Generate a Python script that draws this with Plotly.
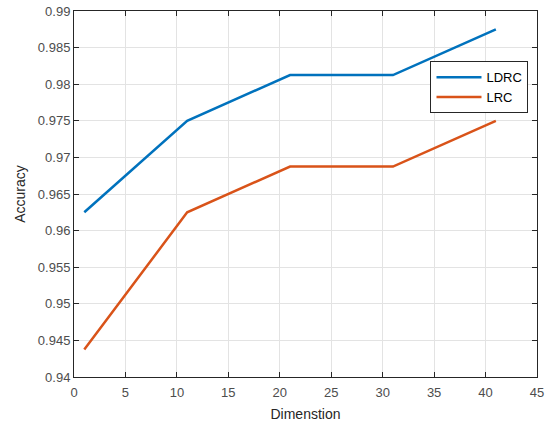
import plotly.graph_objects as go

dims = [1, 11, 21, 31, 41]
ldrc = [0.9625, 0.975, 0.98125, 0.98125, 0.9875]
lrc = [0.94375, 0.9625, 0.96875, 0.96875, 0.975]
x_ticks = [0, 5, 10, 15, 20, 25, 30, 35, 40, 45]
y_ticks = [0.94, 0.945, 0.95, 0.955, 0.96, 0.965, 0.97, 0.975, 0.98, 0.985, 0.99]
y_labels = ["0.94", "0.945", "0.95", "0.955", "0.96", "0.965", "0.97", "0.975", "0.98", "0.985", "0.99"]

FONT = "Liberation Sans, Arial, sans-serif"

fig = go.Figure()
fig.add_trace(go.Scatter(x=dims, y=ldrc, mode="lines", name="LDRC",
                         line=dict(color="#0072BD", width=2.5)))
fig.add_trace(go.Scatter(x=dims, y=lrc, mode="lines", name="LRC",
                         line=dict(color="#D95319", width=2.5)))

axis_common = dict(showline=True, linecolor="#262626", linewidth=1, mirror="ticks",
                   ticks="inside", ticklen=5, tickcolor="#262626", automargin=False,
                   showgrid=True, gridcolor="#E3E3E3", gridwidth=1, zeroline=False,
                   tickfont=dict(family=FONT, size=13, color="#4D4D4D"))

fig.update_xaxes(range=[0, 45], tickvals=x_ticks, ticklabelstandoff=3,
                 title=dict(text="Dimenstion", font=dict(family=FONT, size=14, color="#262626"), standoff=10),
                 **axis_common)
fig.update_yaxes(range=[0.94, 0.99], tickvals=y_ticks, ticktext=y_labels,
                 title=dict(text="Accuracy", font=dict(family=FONT, size=14, color="#262626"), standoff=8),
                 **axis_common)

fig.update_layout(
    width=547, height=425,
    margin=dict(l=74, r=10, t=11, b=48),
    plot_bgcolor="white", paper_bgcolor="white",
    showlegend=True,
    legend=dict(x=0.8758, y=0.7918, xanchor="center", yanchor="middle",
                bgcolor="white", bordercolor="#262626", borderwidth=1,
                font=dict(family=FONT, size=13, color="#000000"),
                tracegroupgap=0, itemwidth=45),
)

fig.write_html("out.html", config={"displayModeBar": False},
               post_script="document.body.style.margin='0';")
